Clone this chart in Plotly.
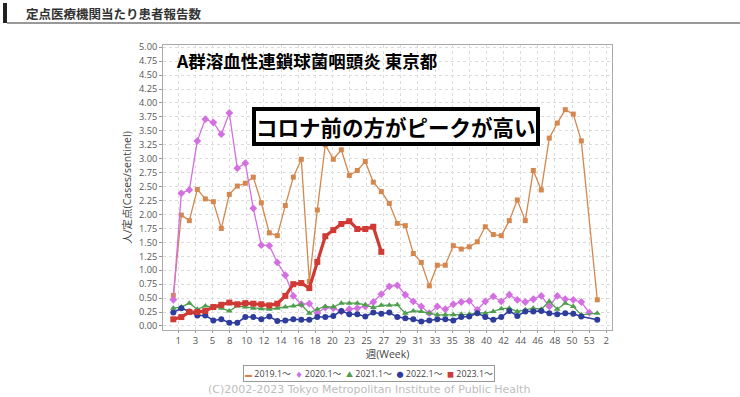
import plotly.graph_objects as go

# ---- data (values per week slot) ----
week_labels = ["1", "3", "5", "8", "10", "12", "14", "16", "18", "20", "23", "25", "27",
               "29", "31", "33", "35", "38", "40", "42", "44", "46", "48", "50", "53", "2"]

v2019 = [0.55, 1.99, 1.89, 2.45, 2.28, 2.23, 1.75, 2.36, 2.51, 2.56, 2.67, 2.21, 1.67,
         1.62, 2.16, 2.67, 2.99, 0.80, 2.08, 3.25, 2.99, 3.16, 2.70, 2.79, 2.95, 2.58,
         2.41, 2.20, 1.84, 1.80, 1.30, 1.14, 0.72, 1.09, 1.09, 1.44, 1.38, 1.42, 1.51,
         1.78, 1.64, 1.62, 1.89, 2.26, 1.89, 2.79, 2.44, 3.37, 3.64, 3.88, 3.80, 3.32, 0.47]
v2020 = [0.47, 2.38, 2.44, 3.32, 3.71, 3.65, 3.44, 3.82, 2.83, 2.92, 2.11, 1.45, 1.44,
         1.14, 0.91, 0.54, 0.39, 0.40, 0.23, 0.33, 0.32, 0.26, 0.30, 0.32, 0.35, 0.43,
         0.57, 0.71, 0.73, 0.56, 0.44, 0.35, 0.23, 0.35, 0.30, 0.39, 0.43, 0.45, 0.29,
         0.44, 0.53, 0.44, 0.56, 0.47, 0.43, 0.48, 0.54, 0.35, 0.54, 0.48, 0.47, 0.43, 0.24]
v2021 = [0.32, 0.34, 0.41, 0.30, 0.36, 0.34, 0.32, 0.27, 0.36, 0.34, 0.32, 0.31, 0.30,
         0.32, 0.34, 0.36, 0.38, 0.23, 0.30, 0.35, 0.34, 0.41, 0.41, 0.41, 0.38, 0.33,
         0.37, 0.37, 0.38, 0.23, 0.27, 0.26, 0.23, 0.20, 0.20, 0.20, 0.21, 0.21, 0.24,
         0.23, 0.26, 0.31, 0.32, 0.26, 0.29, 0.32, 0.30, 0.44, 0.30, 0.41, 0.35, 0.20, 0.23]
v2022 = [0.24, 0.32, 0.26, 0.19, 0.19, 0.10, 0.12, 0.06, 0.06, 0.16, 0.16, 0.12, 0.17,
         0.09, 0.10, 0.12, 0.11, 0.11, 0.16, 0.16, 0.18, 0.27, 0.21, 0.21, 0.17, 0.24,
         0.22, 0.24, 0.16, 0.14, 0.12, 0.08, 0.10, 0.12, 0.12, 0.10, 0.16, 0.17, 0.23,
         0.16, 0.11, 0.16, 0.27, 0.18, 0.26, 0.26, 0.27, 0.23, 0.21, 0.23, 0.22, 0.17, 0.11]
v2023 = [0.12, 0.16, 0.25, 0.25, 0.27, 0.34, 0.38, 0.42, 0.39, 0.41, 0.40, 0.39, 0.37,
         0.40, 0.54, 0.75, 0.77, 0.68, 1.15, 1.61, 1.72, 1.83, 1.88, 1.74, 1.74, 1.78, 1.33]

# week slots (x positions) for each season
slots_52 = list(range(0, 52)) + [53]
slots_53 = list(range(0, 53))
slots_2023 = list(range(0, 27))

series = [
    ("2019.1〜", slots_52, v2019, "#D4874E", "square", 5, 1.3, "▬"),
    ("2020.1〜", slots_53, v2020, "#D36FE0", "diamond", 6, 1.3, "♦"),
    ("2021.1〜", slots_52, v2021, "#4E9E4E", "triangle-up", 6, 1.3, "▲"),
    ("2022.1〜", slots_52, v2022, "#2E3C9C", "circle", 6, 1.5, "●"),
    ("2023.1〜", slots_2023, v2023, "#D03A35", "square", 6, 3.2, "■"),
]

fig = go.Figure()
for name, xs, ys, col, sym, msz, lw, _ in series:
    fig.add_trace(go.Scatter(
        x=xs, y=ys, name=name, mode="lines+markers",
        line=dict(color=col, width=lw),
        marker=dict(symbol=sym, size=msz, color=col),
        showlegend=False,
    ))

tick_pos = [0.625 + 2.14 * k for k in range(len(week_labels))]

# pixel geometry helpers for decorations
L, R, T, B = 163, 612, 45, 330
W, H = 740, 397
def px(x):
    return (x - L) / (R - L)
def py(y):
    return (B - y) / (B - T)

FONT = "Open Sans, Noto Sans CJK JP, sans-serif"

fig.update_layout(
    width=W, height=H,
    margin=dict(l=L, r=W - R, t=T, b=H - B, autoexpand=False),
    paper_bgcolor="white", plot_bgcolor="white",
    font=dict(family=FONT, color="#555"),
    xaxis=dict(
        range=[-1.29, 54.84], tickmode="array", tickvals=tick_pos, ticktext=week_labels,
        showgrid=True, gridcolor="#dcdcdc", griddash="dot", gridwidth=1,
        showline=True, linecolor="#aaa", mirror=True, ticks="outside", ticklen=2,
        tickcolor="#999", tickfont=dict(size=9.5, color="#555"), zeroline=False,
        automargin=False,
        title=dict(text="週(Week)", font=dict(family=FONT, size=10.5, color="#444"), standoff=2),
    ),
    yaxis=dict(
        range=[-0.072, 5.04], tickmode="array",
        tickvals=[i * 0.25 for i in range(21)],
        ticktext=[f"{i * 0.25:.2f}" for i in range(21)],
        showgrid=True, gridcolor="#dcdcdc", griddash="dot", gridwidth=1,
        showline=True, linecolor="#aaa", mirror=True, ticks="outside", ticklen=3,
        tickcolor="#999", tickfont=dict(size=9.2, color="#555"), zeroline=False,
        automargin=False,
        title=dict(text="人/定点(Cases/sentinel)", font=dict(family=FONT, size=10.5, color="#444"), standoff=5),
    ),
)

# header bar and underline
fig.add_shape(type="rect", xref="paper", yref="paper",
              x0=px(3), x1=px(7), y0=py(23), y1=py(3),
              fillcolor="#222", line=dict(width=0))
fig.add_shape(type="line", xref="paper", yref="paper",
              x0=px(7), x1=px(740), y0=py(23), y1=py(23),
              line=dict(color="#999", width=2))
fig.add_annotation(xref="paper", yref="paper", x=px(24), y=py(13),
                   xanchor="left", yanchor="middle", showarrow=False,
                   text="<b>定点医療機関当たり患者報告数</b>",
                   font=dict(family="Noto Sans CJK JP", size=12.5, color="#333"))

# chart title
fig.add_annotation(xref="paper", yref="paper", x=px(174), y=py(61),
                   xanchor="left", yanchor="middle", showarrow=False,
                   text="<b>A群溶血性連鎖球菌咽頭炎 東京都</b>",
                   font=dict(family="Noto Sans CJK JP", size=17.5, color="#000"))

# boxed comment
fig.add_annotation(xref="paper", yref="paper", x=px(395.5), y=py(126.5),
                   xanchor="center", yanchor="middle", showarrow=False,
                   text="<b>コロナ前の方がピークが高い</b>",
                   font=dict(family="Noto Sans CJK JP", size=21.5, color="#000"),
                   bgcolor="white", bordercolor="#000", borderwidth=4, borderpad=0)

# legend (manual)
parts = []
for name, xs, ys, col, sym, msz, lw, glyph in series:
    parts.append(f'<span style="color:{col};font-size:7px">{glyph}</span> {name}')
fig.add_annotation(xref="paper", yref="paper", x=px(368.5), y=py(373),
                   xanchor="center", yanchor="middle", showarrow=False,
                   text="  ".join(parts),
                   font=dict(family=FONT, size=8.9, color="#444"),
                   bordercolor="#999", borderwidth=1, borderpad=1, bgcolor="white")

# copyright
fig.add_annotation(xref="paper", yref="paper", x=px(368.5), y=py(389),
                   xanchor="center", yanchor="middle", showarrow=False,
                   text="(C)2002-2023 Tokyo Metropolitan Institute of Public Health",
                   font=dict(family="DejaVu Sans", size=11, color="#bdbdbd"))

fig.write_html("out.html", config={"displayModeBar": False},
               post_script="document.body.style.margin='0';")
